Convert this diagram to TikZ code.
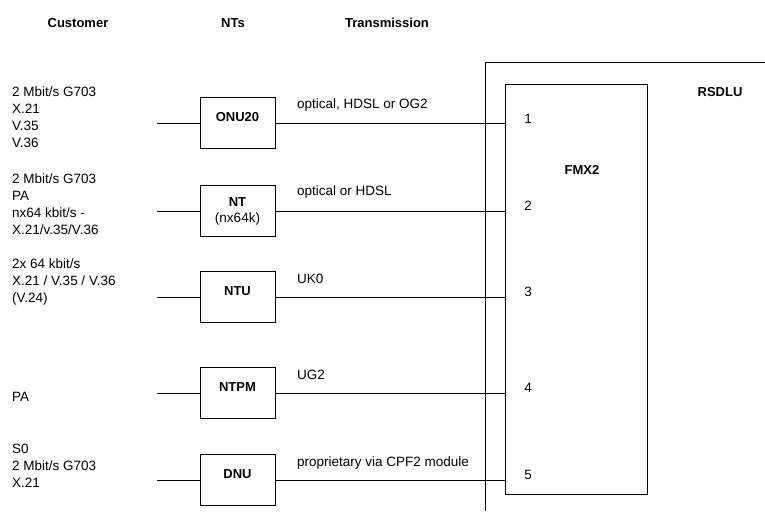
\documentclass[tikz,border=0pt]{standalone}
\usepackage{fontspec}
\setmainfont{Liberation Sans}
\begin{document}
\begin{tikzpicture}[x=1pt,y=-1pt,
  every node/.style={font=\fontsize{13.5}{17}\selectfont, inner sep=0pt},
  ln/.style={line width=1pt},
  ntbox/.style={draw, line width=1pt, minimum width=75pt, minimum height=51pt, font=\fontsize{13}{17}\selectfont\bfseries},
  onel/.style={text height=9.5pt, text depth=12.2pt},
  hdr/.style={font=\fontsize{13}{17}\selectfont\bfseries},
  cust/.style={anchor=west, align=left},
  trl/.style={anchor=west},
  port/.style={anchor=center}]
\useasboundingbox (0,0) rectangle (765,511);
% headers
\node[hdr] (hcust) at (78,23) {Customer};
\node[hdr] (hnts) at (233,23) {NTs};
\node[hdr] (htr) at (387,23) {Transmission};
% RSDLU outer frame
\coordinate (rtop) at (765,63);
\coordinate (rcorner) at (485,63);
\coordinate (rbot) at (485,511);
\draw[ln] (rtop) -- (rcorner) -- (rbot);
\node[hdr] (rsdlu) at (720,92) {RSDLU};
% FMX2
\node[draw, line width=1pt, minimum width=142pt, minimum height=410pt] (fmx) at (576,289) {};
\node[hdr] (fmxl) at (582,170) {FMX2};
% NT boxes
\node[ntbox, onel] (onu) at (237.5,123) {ONU20};
\node[ntbox, align=center] (nt) at (237.5,211) {NT\\[-1pt]\mdseries\fontsize{13.5}{17}\selectfont (nx64k)};
\node[ntbox, onel] (ntu) at (237.5,297) {NTU};
\node[ntbox, onel] (ntpm) at (237.5,393) {NTPM};
\node[ntbox, onel] (dnu) at (237.5,480) {DNU};
% customer texts
\node[cust] (c1) at (12,117) {2 Mbit/s G703\\X.21\\V.35\\V.36};
\node[cust] (c2) at (12,204) {2 Mbit/s G703\\PA\\nx64 kbit/s -\\X.21/v.35/V.36};
\node[cust] (c3) at (12,282) {2x 64 kbit/s\\X.21 / V.35 / V.36\\(V.24)};
\node[cust] (c4) at (12,397) {PA};
\node[cust] (c5) at (12,466) {S0\\2 Mbit/s G703\\X.21};
% customer stubs and transmission lines
\foreach \b in {onu,nt,ntu,ntpm,dnu}{
  \coordinate (s\b) at ([xshift=-43pt]\b.west);
  \draw[ln] (s\b) -- (\b.west);
  \draw[ln] (\b.east) -- (\b.east -| fmx.west);
}
% transmission labels
\node[trl] (t1) at (297,105) {optical, HDSL or OG2};
\node[trl] (t2) at (297,192) {optical or HDSL};
\node[trl] (t3) at (297,279) {UK0};
\node[trl] (t4) at (297,375) {UG2};
\node[trl] (t5) at (297,463) {proprietary via CPF2 module};
% ports
\node[port] (p1) at (528,119) {1};
\node[port] (p2) at (528,206) {2};
\node[port] (p3) at (528,292) {3};
\node[port] (p4) at (528,388) {4};
\node[port] (p5) at (528,475) {5};
\end{tikzpicture}
\end{document}
